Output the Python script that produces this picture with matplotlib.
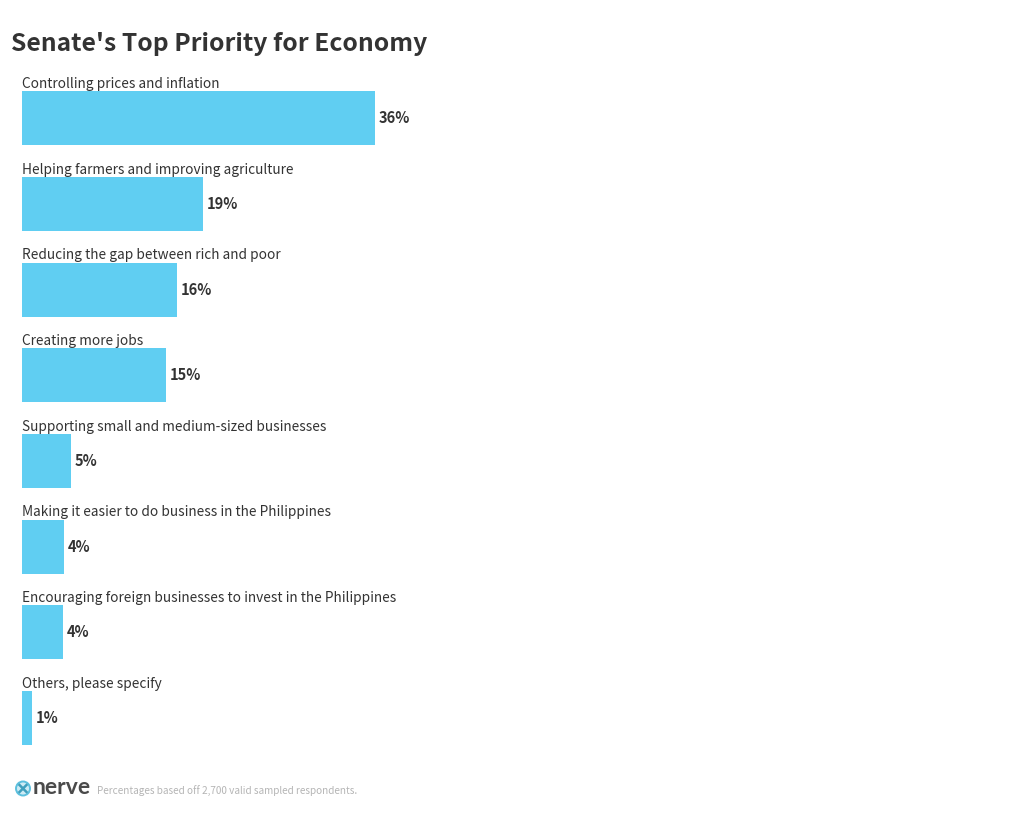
import matplotlib
matplotlib.use("Agg")
import matplotlib.pyplot as plt
from matplotlib.patches import Circle
from matplotlib.lines import Line2D

# Noto Sans CJK has the Source Sans latin glyphs the chart uses
plt.rcParams["font.family"] = ["Noto Sans CJK SC", "DejaVu Sans"]

categories = [
    "Controlling prices and inflation",
    "Helping farmers and improving agriculture",
    "Reducing the gap between rich and poor",
    "Creating more jobs",
    "Supporting small and medium-sized businesses",
    "Making it easier to do business in the Philippines",
    "Encouraging foreign businesses to invest in the Philippines",
    "Others, please specify",
]
values = [36.0, 18.5, 15.8, 14.7, 5.0, 4.3, 4.2, 1.0]
value_labels = ["36%", "19%", "16%", "15%", "5%", "4%", "4%", "1%"]

W, H = 1020, 813
BAR_COLOR = "#60cef2"
TEXT_COLOR = "#333333"

fig = plt.figure(figsize=(W / 100, H / 100), dpi=100, facecolor="white")

# axes spans 0-100% at 9.8 px per percent, bands are 85.7 px tall
ax = fig.add_axes([22 / W, (H - 760.9) / H, 980 / W, 685.6 / H])
ax.set_xlim(0, 100)
ax.set_ylim(len(categories) - 0.5, -0.5)
ax.axis("off")

ax.barh(range(len(categories)), values, height=0.63, color=BAR_COLOR, linewidth=0)

for i, (cat, val, lab) in enumerate(zip(categories, values, value_labels)):
    ax.annotate(cat, (0, i), xytext=(0, 21.8), textcoords="offset points", fontsize=9.85,
                color=TEXT_COLOR, ha="left", va="baseline", annotation_clip=False)
    ax.annotate(lab, (val, i), xytext=(2.6, 1), textcoords="offset points", fontsize=10.5,
                fontweight="bold", color=TEXT_COLOR, ha="left", va="center_baseline")

fig.text(11 / W, 1 - 44 / H, "Senate's Top Priority for Economy", fontsize=17.75, fontweight="bold",
         color=TEXT_COLOR, ha="left", va="center")

# footer logo: circle with a cross, then the wordmark
logo = fig.add_axes([0, 0, 1, 1], facecolor="none")
logo.set_xlim(0, W)
logo.set_ylim(H, 0)
logo.axis("off")
logo.add_patch(Circle((23, 788.5), 7, facecolor="#cdebf5", edgecolor="#5cc0de", linewidth=1.4))
logo.add_line(Line2D([19.5, 26.5], [785, 792], color="#3f9fbd", linewidth=1.8))
logo.add_line(Line2D([26.5, 19.5], [785, 792], color="#3f9fbd", linewidth=1.8))
fig.text(32.5 / W, 1 - 787.5 / H, "nerve", family="Lato", fontsize=16.5, fontweight="bold",
         color="#4a4a4a", ha="left", va="center")

fig.text(97 / W, 1 - 790.7 / H, "Percentages based off 2,700 valid sampled respondents.", fontsize=7.2,
         color="#b5b5b5", ha="left", va="center")

fig.savefig("out.png", dpi=100)
